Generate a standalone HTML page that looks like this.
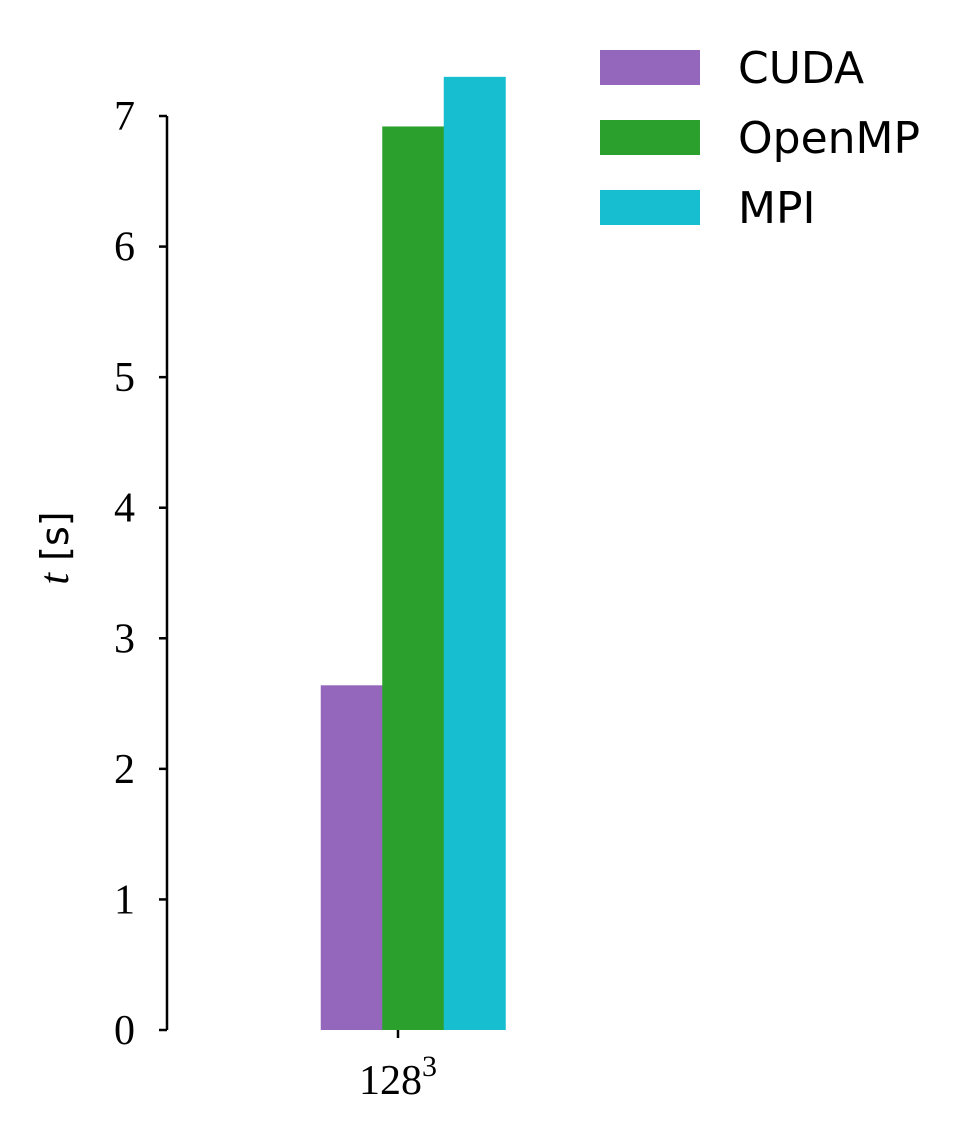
<!DOCTYPE html>
<html><head><meta charset="utf-8"><style>
html,body{margin:0;padding:0;background:#fff;}
svg{display:block;}
.tk{font-family:"Liberation Serif","DejaVu Serif",serif;font-size:42px;fill:#000;}
.lg{font-family:"DejaVu Sans","Liberation Sans",sans-serif;font-size:44px;fill:#000;}
</style></head><body>
<svg id="chart" width="971" height="1134" viewBox="0 0 971 1134" xmlns="http://www.w3.org/2000/svg"></svg>
<script>
const categories=["128"];
const series=["CUDA","OpenMP","MPI"];
const colors=["#9467bd","#2ca02c","#17becf"];
const values=[2.64,6.92,7.30];
const yTicks=[0,1,2,3,4,5,6,7];
const NS="http://www.w3.org/2000/svg";
const svg=document.getElementById('chart');
const y0=1030,pxPer=130.57;
function y(v){return y0-v*pxPer;}
const cx=413,barW=61.5;
function x(i){return cx-1.5*barW+i*barW;}
function mk(t,a,txt){const e=document.createElementNS(NS,t);for(const k in a)e.setAttribute(k,a[k]);if(txt!==undefined)e.textContent=txt;svg.appendChild(e);return e;}
let e;
values.forEach((v,i)=>{
 e=mk('rect',{x:x(i),y:y(v),width:barW+0.5,height:y0-y(v),fill:colors[i]});
 
 
});
e=mk('line',{x1:167,y1:y(7),x2:167,y2:y0,stroke:'#000','stroke-width':2.5});


yTicks.forEach(t=>{
 e=mk('line',{x1:159,y1:y(t),x2:167,y2:y(t),stroke:'#000','stroke-width':2.5});
 
 
 e=mk('text',{x:135,y:y(t)+14,'text-anchor':'end',class:'tk'},String(t));
 
 
});
e=mk('line',{x1:398,y1:y0,x2:398,y2:y0+8,stroke:'#000','stroke-width':2.5});


e=mk('text',{x:398,y:1094,'text-anchor':'middle',class:'tk'});


e.innerHTML=categories[0]+'<tspan dy="-18" font-size="30">3</tspan>';
e=mk('text',{x:0,y:0,class:'tk',transform:'translate(68,548) rotate(-90)','text-anchor':'middle'});


e.innerHTML='<tspan font-style="italic">t</tspan><tspan font-family="DejaVu Sans, Liberation Sans, sans-serif" font-size="38"> [s]</tspan>';
series.forEach((s,i)=>{
 const ly=50+i*70;
 e=mk('rect',{x:600,y:ly,width:100,height:35,fill:colors[i]});
 
 
 e=mk('text',{x:738,y:ly+33,class:'lg'},s);
 
 
});
</script>
</body></html>
